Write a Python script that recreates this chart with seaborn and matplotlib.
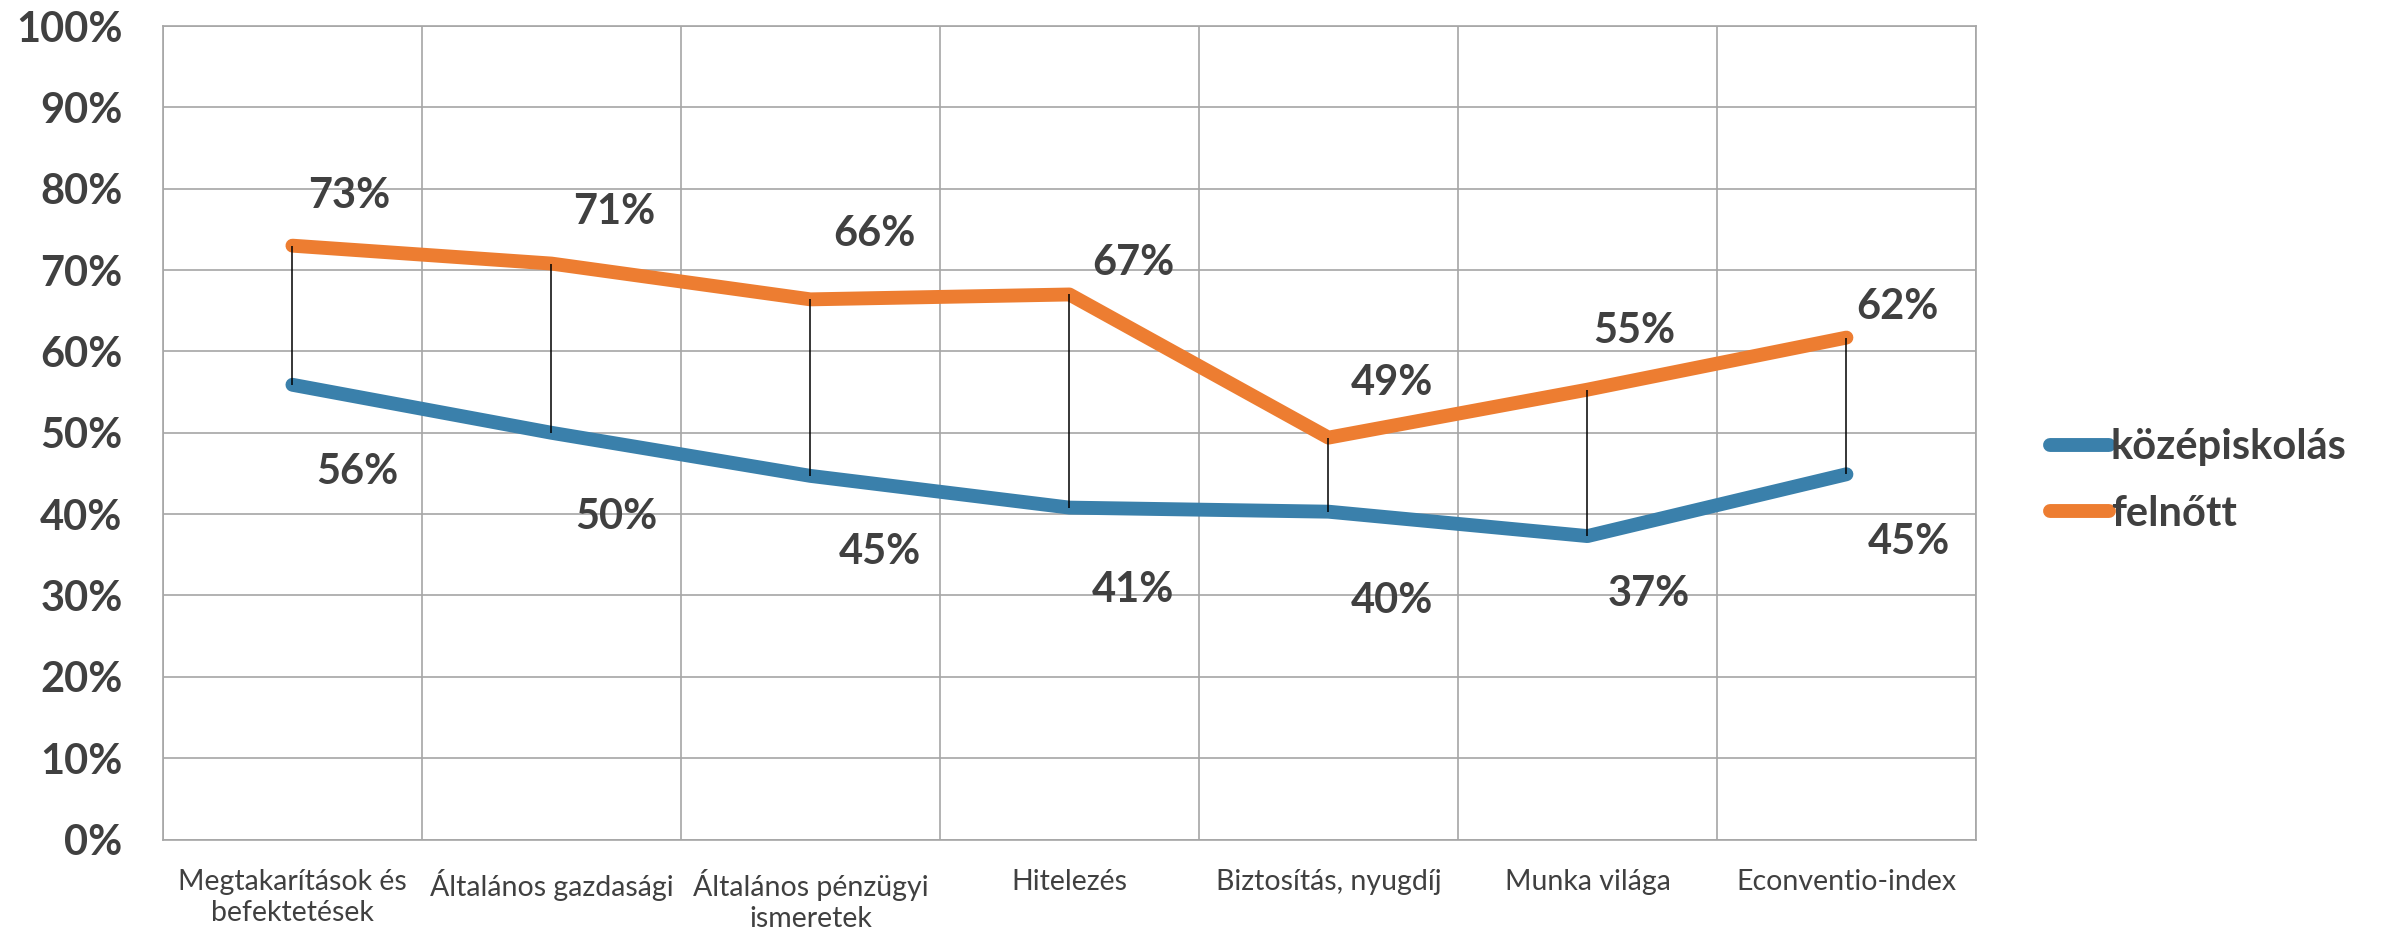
import matplotlib
matplotlib.use("Agg")
import matplotlib.pyplot as plt
import seaborn as sns
import pandas as pd
import numpy as np
from matplotlib.ticker import PercentFormatter

########################################################################
# data
########################################################################
categories = ["Megtakarítások és befektetések", "Általános gazdasági",
              "Általános pénzügyi ismeretek", "Hitelezés",
              "Biztosítás, nyugdíj", "Munka világa", "Econventio-index"]
tick_labels = ["Megtakarítások és\nbefektetések", "Általános gazdasági",
               "Általános pénzügyi\nismeretek", "Hitelezés",
               "Biztosítás, nyugdíj", "Munka világa", "Econventio-index"]
series_names = ["középiskolás", "felnőtt"]
kozepiskolas = [0.559, 0.500, 0.447, 0.408, 0.403, 0.373, 0.449]
felnott = [0.730, 0.708, 0.664, 0.670, 0.494, 0.553, 0.617]

# label offsets (points) - the labels were moved by hand in the original
felnott_offsets = [(41, 36), (45, 37), (46, 47), (46, 23), (46, 39), (34, 42), (37, 22)]
kozep_offsets = [(47, -63), (47, -61), (50, -55), (46, -59), (46, -64), (44, -42), (45, -49)]

BLUE = "#3A80AB"
ORANGE = "#ED7D31"
GRID = "#A6A6A6"
TEXT = "#404040"

df = pd.DataFrame({
    "kategoria": categories * 2,
    "arany": kozepiskolas + felnott,
    "csoport": [series_names[0]] * len(categories) + [series_names[1]] * len(categories),
})

sns.set_style("white")
plt.rcParams["font.family"] = ["Lato", "DejaVu Sans"]

fig = plt.figure(figsize=(23.89, 9.33), dpi=100)
ax = fig.add_axes([0.0682, 0.1002, 0.7589, 0.8719])

sns.lineplot(data=df, x="kategoria", y="arany", hue="csoport",
             palette=[BLUE, ORANGE], linewidth=10, sort=False, ax=ax)
for ln in ax.lines:
    ln.set_solid_capstyle("round")
    ln.set_solid_joinstyle("round")

# high-low lines
ax.vlines(categories, kozepiskolas, felnott, color="black", linewidth=1.1, zorder=5)

# data labels
for cat, v, off in zip(categories, felnott, felnott_offsets):
    ax.annotate(f"{v:.0%}", (cat, v), xytext=off, textcoords="offset points",
                ha="center", va="center", fontsize=30, fontweight="bold", color=TEXT)
for cat, v, off in zip(categories, kozepiskolas, kozep_offsets):
    ax.annotate(f"{v:.0%}", (cat, v), xytext=off, textcoords="offset points",
                ha="center", va="center", fontsize=30, fontweight="bold", color=TEXT)

# axes
ax.set_xlim(-0.5, len(categories) - 0.5)
ax.set_ylim(0, 1)
ax.set_yticks(np.arange(0, 1.01, 0.1))
ax.yaxis.set_major_formatter(PercentFormatter(1, decimals=0))
ax.set_xticks(range(len(categories)))
ax.set_xticklabels(tick_labels, fontsize=20.5, color=TEXT, linespacing=1.25)
ax.set_xticks(np.arange(-0.5, len(categories), 1), minor=True)
ax.tick_params(axis="x", which="major", length=0, pad=21)
ax.tick_params(axis="x", which="minor", length=7, width=1.2, color=GRID)
ax.tick_params(axis="y", length=10, width=1.2, color=GRID, pad=19,
               labelsize=30, labelcolor=TEXT)
for t in ax.get_yticklabels():
    t.set_fontweight("bold")
ax.grid(True, axis="y", which="major", color=GRID, linewidth=1.2)
ax.grid(True, axis="x", which="minor", color=GRID, linewidth=1.2)
ax.set_axisbelow(True)
for sp in ax.spines.values():
    sp.set_color(GRID)
    sp.set_linewidth(1.2)
ax.set_xlabel("")
ax.set_ylabel("")

# legend at the right
handles, labels = ax.get_legend_handles_labels()
ax.get_legend().remove()
fig.legend(handles, labels, loc="center left", bbox_to_anchor=(0.8495, 0.485),
           frameon=False, prop={"size": 30, "weight": "bold"}, labelcolor=TEXT,
           handlelength=1.4, handletextpad=0.05, labelspacing=0.68, borderpad=0)

fig.savefig("out.png", dpi=100)
